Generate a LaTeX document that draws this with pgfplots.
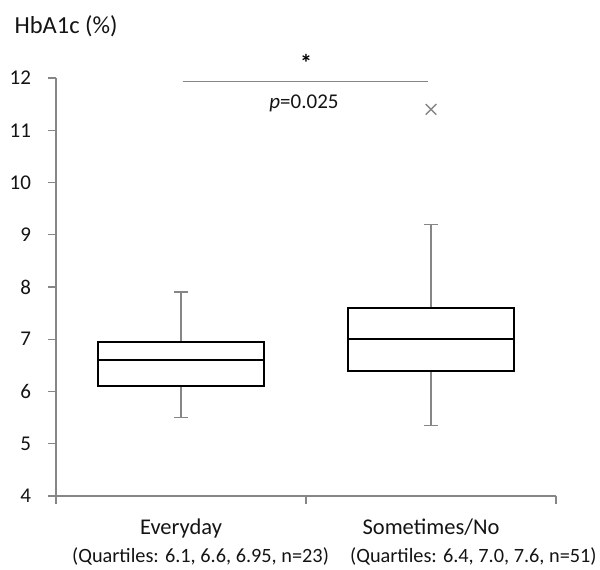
\documentclass[border=0pt]{standalone}
\usepackage{fontspec}
\setmainfont{Carlito}
\usepackage{pgfplots}
\pgfplotsset{compat=1.18}
\definecolor{axgray}{RGB}{134,134,134}
\definecolor{txt}{RGB}{20,20,20}
\begin{document}
\begin{tikzpicture}
\path[use as bounding box] (0,0) rectangle (600bp,570bp);
\begin{axis}[
  at={(56bp,74bp)}, anchor=south west,
  scale only axis, width=500bp, height=418bp,
  xmin=0, xmax=2, ymin=4, ymax=12,
  axis lines*=left,
  axis line style={draw=axgray, line width=1.2bp},
  ytick={4,5,...,12},
  xtick={0,1,2}, xticklabels={},
  tick style={draw=axgray, line width=1.2bp},
  tick align=outside, major tick length=7.5bp,
  /pgf/number format/assume math mode=true,
  yticklabel style={font=\fontsize{21bp}{24bp}\selectfont, text=txt, xshift=-14bp},
  extra x ticks={0.5,1.5},
  extra x tick labels={Everyday, Sometimes/No},
  extra x tick style={major tick length=0bp,
     xticklabel style={font=\fontsize{22.5bp}{27bp}\selectfont, text=txt, yshift=-19bp}},
  clip=false,
]
% ---- Everyday box: Q1 6.1, median 6.6, Q3 6.95, whiskers 5.5 / 7.9
\addplot[draw=axgray, line width=1.5bp] coordinates {(0.5,6.95) (0.5,7.9)};
\addplot[draw=axgray, line width=1.5bp] coordinates {(0.5,6.1) (0.5,5.5)};
\addplot[draw=axgray, line width=1.5bp] coordinates {(0.4735,7.9) (0.5265,7.9)};
\addplot[draw=axgray, line width=1.5bp] coordinates {(0.4735,5.5) (0.5265,5.5)};
\addplot[draw=black, line width=2bp] coordinates {(0.1667,6.1) (0.8333,6.1) (0.8333,6.95) (0.1667,6.95)} -- cycle;
\addplot[draw=black, line width=2bp] coordinates {(0.1667,6.6) (0.8333,6.6)};
% ---- Sometimes/No box: Q1 6.4, median 7.0, Q3 7.6, whiskers 5.35 / 9.2
\addplot[draw=axgray, line width=1.5bp] coordinates {(1.5,7.6) (1.5,9.2)};
\addplot[draw=axgray, line width=1.5bp] coordinates {(1.5,6.4) (1.5,5.35)};
\addplot[draw=axgray, line width=1.5bp] coordinates {(1.4735,9.2) (1.5265,9.2)};
\addplot[draw=axgray, line width=1.5bp] coordinates {(1.4735,5.35) (1.5265,5.35)};
\addplot[draw=black, line width=2bp] coordinates {(1.1667,6.4) (1.8333,6.4) (1.8333,7.6) (1.1667,7.6)} -- cycle;
\addplot[draw=black, line width=2bp] coordinates {(1.1667,7.0) (1.8333,7.0)};
% outlier
\addplot[only marks, mark=x, mark size=7.5bp, draw=axgray, mark options={line width=1.4bp}]
  coordinates {(1.5,11.4)};
% significance bar
\addplot[draw=axgray, line width=1.2bp] coordinates {(0.506,11.94) (1.488,11.94)};
\node[font=\fontsize{24bp}{26bp}\selectfont\bfseries, text=black] at (axis cs:1.0,12.28) {*};
\node[font=\fontsize{21bp}{24bp}\selectfont, text=txt] at (axis cs:0.992,11.52) {\textit{p}=0.025};
\end{axis}
\node[anchor=west, font=\fontsize{24.5bp}{28bp}\selectfont, text=txt] at (11bp,544bp) {HbA1c (\%)};
\node[anchor=base west, inner sep=0pt, font=\fontsize{20.3bp}{24bp}\selectfont, text=txt] at (72bp,8bp) {(Quartiles: 6.1, 6.6, 6.95, n=23)};
\node[anchor=base west, inner sep=0pt, font=\fontsize{20.3bp}{24bp}\selectfont, text=txt] at (350bp,8bp) {(Quartiles: 6.4, 7.0, 7.6, n=51)};
\end{tikzpicture}
\end{document}
